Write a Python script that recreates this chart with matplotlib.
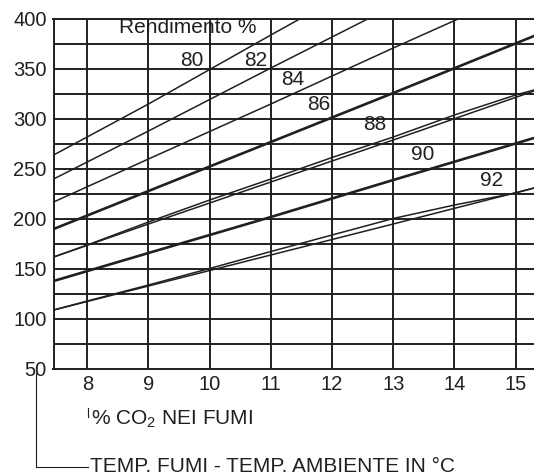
import matplotlib
matplotlib.use("Agg")
import matplotlib.pyplot as plt
from matplotlib.lines import Line2D

# % CO2 in flue gas (x) and temperature difference flue - ambient (y)
co2 = [7.45, 9, 11, 13, 15.3]
t80 = [264, 315, 384, 452, 530]
t82 = [240, 288, 351, 413, 485]
t84 = [217, 260, 315, 371, 434]
t86 = [190, 228, 277, 326, 383]
t88 = [162, 195, 237, 279, 328]
t90 = [138, 166, 202, 239, 281]
t92 = [109, 133, 164, 195, 231]

# second (slightly bowed) curve for 88 and 92
co2_b = [7.45, 8, 9, 10, 11, 12, 13, 14, 15, 15.3]
t88b = [162, 174, 197, 219, 240, 261.5, 282, 304, 324, 329]
t92b = [109, 118, 134, 150.5, 167.5, 184, 200.5, 214, 226, 231]

eff_names = ['80', '82', '84', '86', '88', '90', '92']
eff_x = [9.71, 10.75, 11.35, 11.79, 12.69, 13.48, 14.6]
eff_y = [358, 358, 339.5, 314.5, 294.5, 264, 238.5]

x_ticks = [8, 9, 10, 11, 12, 13, 14, 15]
y_ticks = [50, 100, 150, 200, 250, 300, 350, 400]

ink = '#231f20'
plt.rcParams['font.family'] = ['Liberation Sans', 'DejaVu Sans']
plt.rcParams['mathtext.fontset'] = 'custom'
plt.rcParams['mathtext.rm'] = 'Liberation Sans'

W, H = 534, 476
fig = plt.figure(figsize=(W / 100, H / 100), dpi=100)
ax = fig.add_axes([53.5 / W, 1 - 369 / H, 1 - 53.5 / W, 350 / H])

ax.set_xlim(7.448, 15.3)
ax.set_ylim(50, 400)
ax.set_xticks(x_ticks)
ax.set_yticks(y_ticks)
ax.set_yticks([v + 25 for v in y_ticks[:-1]], minor=True)
ax.grid(True, which='both', color=ink, lw=1.4)
ax.set_axisbelow(True)
ax.tick_params(which='both', length=0, labelsize=14.5, colors=ink)
ax.tick_params(axis='y', pad=5)
ax.tick_params(axis='x', pad=4)
for s in ['left', 'top', 'bottom']:
    ax.spines[s].set_color(ink)
    ax.spines[s].set_linewidth(1.4)
ax.spines['right'].set_visible(False)

thin = dict(color=ink, lw=1.1, zorder=3)
thick = dict(color=ink, lw=1.9, zorder=3)
ax.plot(co2, t80, **thin)
ax.plot(co2, t82, **thin)
ax.plot(co2, t84, **thin)
ax.plot(co2, t86, **thick)
ax.plot(co2, t88, **thin)
ax.plot(co2_b, t88b, **thin)
ax.plot(co2, t90, **thick)
ax.plot(co2, t92, **thin)
ax.plot(co2_b, t92b, **thin)

ax.text(8.52, 391.5, 'Rendimento %', fontsize=15, color=ink,
        ha='left', va='center', zorder=4)
for name, x, y in zip(eff_names, eff_x, eff_y):
    ax.text(x, y, name, fontsize=15, color=ink, ha='center', va='center', zorder=4)

# axis captions with leader lines
fig.text(91 / W, 1 - 419.5 / H, '% CO$_{\\mathregular{2}}$ NEI FUMI', fontsize=15,
         color=ink, ha='left', va='center')
fig.text(90 / W, 1 - 466.5 / H, 'TEMP. FUMI - TEMP. AMBIENTE IN °C', fontsize=15,
         color=ink, ha='left', va='center')
fig.add_artist(Line2D([87.7 / W, 87.7 / W], [1 - 408 / H, 1 - 417 / H],
                      transform=fig.transFigure, color=ink, lw=0.8))
fig.add_artist(Line2D([35.7 / W, 35.7 / W, 88 / W],
                      [1 - 373 / H, 1 - 466.7 / H, 1 - 466.7 / H],
                      transform=fig.transFigure, color=ink, lw=0.8))

fig.savefig('out.png', dpi=100)
